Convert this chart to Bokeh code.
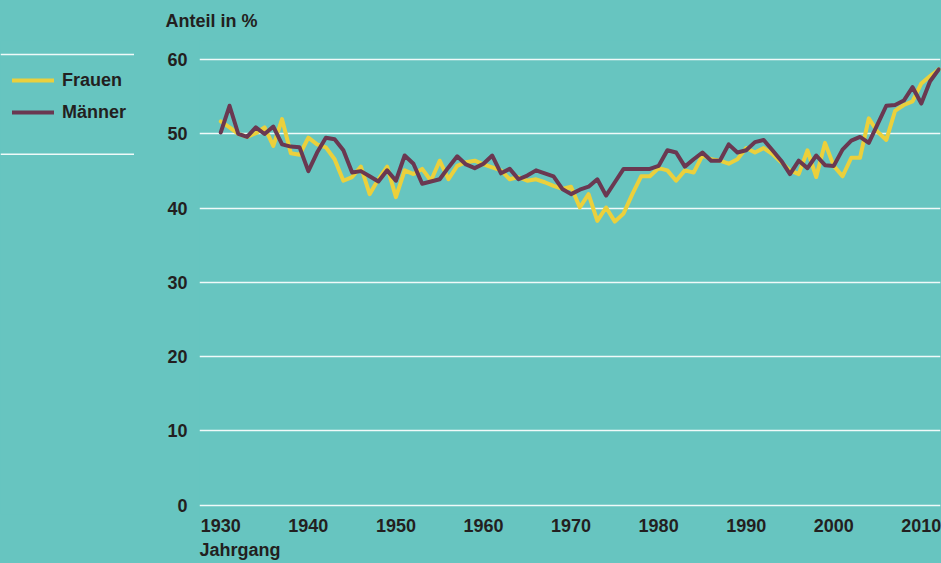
from bokeh.plotting import figure
from bokeh.models import (Range1d, FixedTicker, Legend, LegendItem, Span, Title,
                          ColumnDataSource)
from bokeh.layouts import row
from bokeh.embed import file_html
from bokeh.resources import INLINE

# ---- data ----
years = list(range(1930, 2013))
frauen = [51.7, 50.9, 50.0, 49.6, 50.1, 50.9, 48.4, 52.0, 47.4, 47.2,
          49.5, 48.6, 48.2, 46.6, 43.7, 44.2, 45.6, 41.9, 43.9, 45.6,
          41.5, 45.1, 44.6, 45.3, 43.7, 46.4, 43.9, 45.7, 46.2, 46.4,
          45.9, 45.5, 45.1, 43.9, 44.2, 43.7, 43.9, 43.5, 43.0, 42.6,
          42.9, 40.1, 41.9, 38.3, 40.1, 38.2, 39.3, 41.9, 44.3, 44.3,
          45.4, 45.1, 43.7, 45.1, 44.8, 47.1, 46.6, 46.4, 46.0, 46.6,
          48.1, 47.5, 48.1, 47.3, 46.2, 45.1, 44.6, 47.8, 44.2, 48.8,
          45.7, 44.3, 46.8, 46.8, 52.1, 50.3, 49.2, 53.1, 53.9, 54.4,
          56.8, 57.8, 58.7]
maenner = [50.2, 53.8, 50.0, 49.6, 50.9, 50.0, 51.0, 48.6, 48.3, 48.2,
           45.0, 47.5, 49.5, 49.3, 47.8, 44.8, 45.0, 44.3, 43.6, 45.1,
           43.7, 47.1, 46.0, 43.3, 43.6, 43.9, 45.5, 47.0, 45.9, 45.4,
           46.0, 47.1, 44.7, 45.3, 43.9, 44.4, 45.1, 44.7, 44.3, 42.6,
           41.9, 42.5, 42.9, 43.9, 41.7, 43.5, 45.3, 45.3, 45.3, 45.3,
           45.7, 47.8, 47.5, 45.6, 46.6, 47.5, 46.4, 46.4, 48.6, 47.5,
           47.8, 48.9, 49.2, 47.8, 46.4, 44.6, 46.4, 45.4, 47.1, 45.8,
           45.7, 47.9, 49.1, 49.6, 48.8, 51.3, 53.8, 53.9, 54.5, 56.3,
           54.1, 57.1, 58.7]
series_names = ["Frauen", "Männer"]
y_ticks = [0, 10, 20, 30, 40, 50, 60]
x_ticks = [1930, 1940, 1950, 1960, 1970, 1980, 1990, 2000, 2010]
y_title = "Anteil in %"
x_title = "Jahrgang"

BG = "#67C5C0"
YELLOW = "#EBD03C"
PURPLE = "#6A3851"
TEXT = "#231F20"
FONT = "Liberation Sans"
LINE_STYLE = dict(line_width=4, line_join="round", line_cap="round")

src = ColumnDataSource(dict(year=years, frauen=frauen, maenner=maenner))

# ---------------- main chart (frame: x 199..940, y 40..515) ----------------
p = figure(width=807, height=563, output_backend="svg", toolbar_location=None,
           x_range=Range1d(1927.57, 2012.19), y_range=Range1d(-1.25, 62.59),
           min_border_left=65, min_border_right=1,
           min_border_top=40, min_border_bottom=48)
p.background_fill_color = BG
p.border_fill_color = BG
p.outline_line_color = None

p.line("year", "frauen", source=src, line_color=YELLOW, **LINE_STYLE)
p.line("year", "maenner", source=src, line_color=PURPLE, **LINE_STYLE)

for ax in (p.xaxis, p.yaxis):
    ax.axis_line_color = None
    ax.major_tick_line_color = None
    ax.minor_tick_line_color = None
    ax.major_tick_out = 0
    ax.major_label_text_font = FONT
    ax.major_label_text_font_style = "bold"
    ax.major_label_text_font_size = "18px"
    ax.major_label_text_color = TEXT
p.yaxis.ticker = FixedTicker(ticks=y_ticks)
p.xaxis.ticker = FixedTicker(ticks=x_ticks)
p.yaxis.major_label_standoff = 12
p.xaxis.major_label_standoff = 4

p.xgrid.visible = False
p.ygrid.ticker = FixedTicker(ticks=y_ticks)
p.ygrid.grid_line_color = "white"
p.ygrid.grid_line_alpha = 0.9
p.ygrid.grid_line_width = 1.5

p.title.text = y_title
p.title.align = "left"
p.title.vertical_align = "top"
p.title.offset = -34
p.title.standoff = 16
p.title.text_font = FONT
p.title.text_font_style = "bold"
p.title.text_font_size = "18px"
p.title.text_color = TEXT

p.add_layout(Title(text=x_title, align="left", offset=0, standoff=7,
                   text_font=FONT, text_font_style="bold", text_font_size="18px",
                   text_color=TEXT), "below")

# ---------------- legend panel (frame is aligned with the chart's: y 40..515) ----------------
lf = figure(width=134, height=563, output_backend="svg", toolbar_location=None,
            x_range=Range1d(0, 134), y_range=Range1d(515, 40),
            min_border=0, min_border_left=0, min_border_right=0,
            min_border_top=40, min_border_bottom=48)
lf.background_fill_color = BG
lf.border_fill_color = BG
lf.outline_line_color = None
lf.axis.visible = False
lf.grid.visible = False

# same series drawn here only to provide legend swatches (outside this panel's range)
lr1 = lf.line("year", "frauen", source=src, line_color=YELLOW, **LINE_STYLE)
lr2 = lf.line("year", "maenner", source=src, line_color=PURPLE, **LINE_STYLE)

for yy in (54, 154):
    lf.add_layout(Span(location=yy, dimension="width", line_color="white",
                       line_alpha=0.9, line_width=1.5))

legend = Legend(items=[LegendItem(label=series_names[0], renderers=[lr1]),
                       LegendItem(label=series_names[1], renderers=[lr2])],
                location=(12, 390), orientation="vertical",
                glyph_width=42, glyph_height=24, label_height=24,
                label_standoff=8, spacing=8, padding=0, margin=0,
                border_line_color=None, background_fill_alpha=0,
                label_text_font=FONT, label_text_font_style="bold",
                label_text_font_size="18px", label_text_color=TEXT)
lf.add_layout(legend)

layout = row(lf, p, spacing=0)

html = file_html(layout, INLINE)
html = html.replace("<head>", "<head><style>html,body{background:%s;}</style>" % BG, 1)
open("out.html", "w").write(html)
